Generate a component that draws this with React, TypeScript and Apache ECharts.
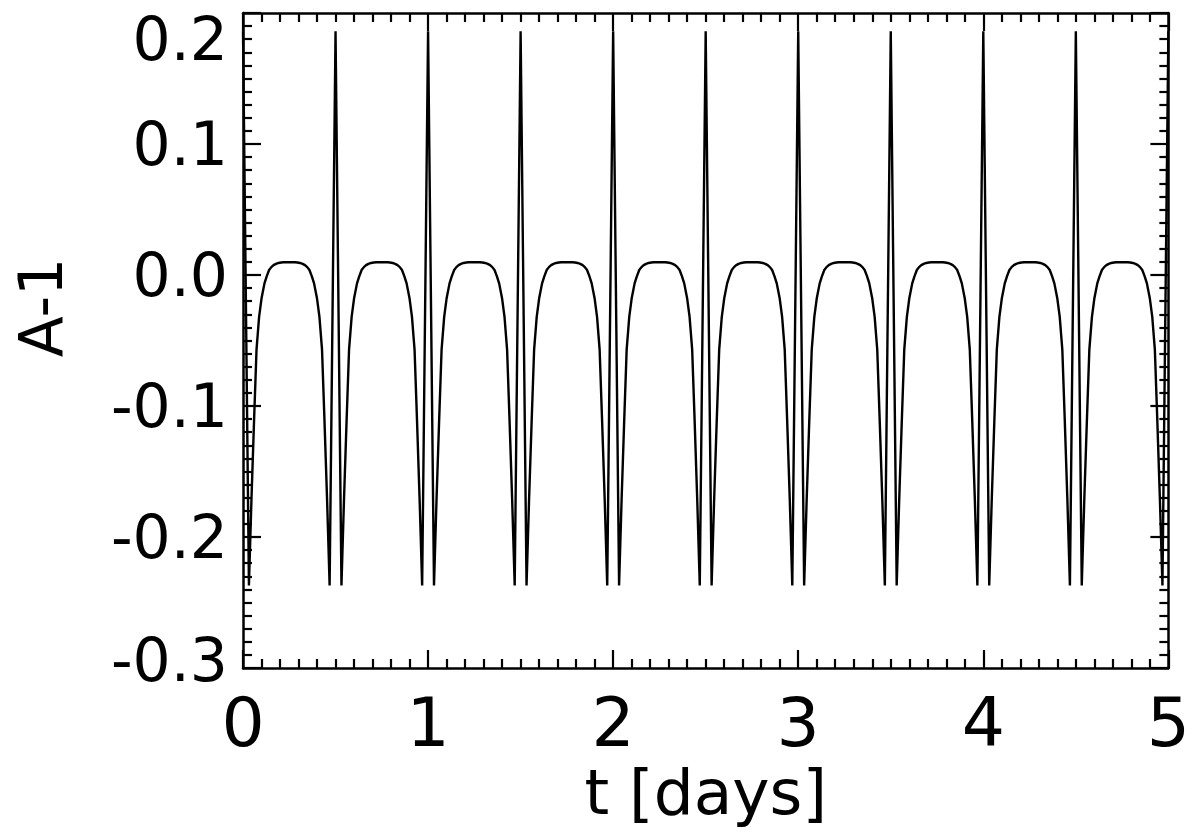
import React, { useEffect, useRef } from "react";
import * as echarts from "echarts";

// One period of the curve (spike at offset 0, hump in the middle)
const phaseOffsets = [0, 0.032, 0.046, 0.06, 0.073, 0.087, 0.1, 0.116, 0.128, 0.141, 0.153, 0.165, 0.178, 0.192, 0.206, 0.22, 0.25, 0.28, 0.294, 0.308, 0.322, 0.335, 0.347, 0.359, 0.372, 0.384, 0.4, 0.413, 0.427, 0.44, 0.454, 0.468];
const phaseValues = [0.186, -0.237, -0.17, -0.11, -0.057, -0.032, -0.018, -0.0064, -0.001, 0.0038, 0.006, 0.0075, 0.0085, 0.0092, 0.0095, 0.0097, 0.0098, 0.0097, 0.0095, 0.0092, 0.0085, 0.0075, 0.006, 0.0038, -0.001, -0.0064, -0.018, -0.032, -0.057, -0.11, -0.17, -0.237];
// Start times of the repeating periods (spike times)
const periodStarts = [0, 0.5, 1, 1.5, 2, 2.5, 3, 3.5, 4, 4.5];
const finalPoint = [5, 0.186];

const xTicks = [0, 1, 2, 3, 4, 5];
const yTicks = [-0.3, -0.2, -0.1, 0.0, 0.1, 0.2];

const FONT = "DejaVu Sans";

export default function App() {
  const ref = useRef<HTMLDivElement>(null);
  useEffect(() => {
    if (!ref.current) return;
    const chart = echarts.init(ref.current, null, { renderer: "svg" });
    const data: number[][] = [];
    periodStarts.forEach((p) => {
      phaseOffsets.forEach((o, i) => data.push([p + o, phaseValues[i]]));
    });
    data.push(finalPoint);

    const xMin = xTicks[0];
    const xMax = xTicks[xTicks.length - 1];
    const yMin = yTicks[0];
    const yMax = yTicks[yTicks.length - 1];

    const axisLine = { show: true, onZero: false, lineStyle: { color: "#000", width: 2.5 } };
    const tick = { show: true, inside: true, length: 18, lineStyle: { color: "#000", width: 2.2 } };
    const minor = { show: true, splitNumber: 10, length: 9, lineStyle: { color: "#000", width: 2.2 } };

    const fmtY = (v: number) => {
      const s = Math.abs(v) < 1e-9 ? "0.0" : v.toFixed(1);
      if (Math.abs(v - yMax) < 1e-9) return "{top|" + s + "}";
      if (Math.abs(v - yMin) < 1e-9) return "{bot|" + s + "}";
      return s;
    };

    chart.setOption({
      animation: false,
      backgroundColor: "#fff",
      grid: { left: 243, right: 20, top: 13, bottom: 168, containLabel: false },
      xAxis: [
        {
          type: "value",
          min: xMin,
          max: xMax,
          interval: 1,
          position: "bottom",
          axisLine,
          axisTick: tick,
          minorTick: minor,
          splitLine: { show: false },
          axisLabel: {
            margin: 20,
            fontFamily: FONT,
            fontSize: 68,
            color: "#000",
            formatter: (v: number) => String(Math.round(v)),
          },
          name: "t [days]",
          nameLocation: "middle",
          nameGap: 92,
          nameTextStyle: { fontFamily: FONT, fontSize: 63, color: "#000" },
        },
        {
          type: "value",
          min: xMin,
          max: xMax,
          interval: 1,
          position: "top",
          axisLine,
          axisTick: tick,
          minorTick: minor,
          splitLine: { show: false },
          axisLabel: { show: false },
        },
      ],
      yAxis: [
        {
          type: "value",
          min: yMin,
          max: yMax,
          interval: 0.1,
          position: "left",
          axisLine,
          axisTick: tick,
          minorTick: minor,
          splitLine: { show: false },
          axisLabel: {
            margin: 15,
            fontFamily: FONT,
            fontSize: 60,
            color: "#000",
            formatter: fmtY,
            rich: {
              top: { fontFamily: FONT, fontSize: 60, color: "#000", padding: [52, 0, 0, 0] },
              bot: { fontFamily: FONT, fontSize: 60, color: "#000", padding: [0, 0, 16, 0] },
            },
          },
          name: "A-1",
          nameLocation: "middle",
          nameGap: 172,
          nameTextStyle: { fontFamily: FONT, fontSize: 60, color: "#000", padding: [0, 0, 0, 66] },
        },
        {
          type: "value",
          min: yMin,
          max: yMax,
          interval: 0.1,
          position: "right",
          axisLine,
          axisTick: tick,
          minorTick: minor,
          splitLine: { show: false },
          axisLabel: { show: false },
        },
      ],
      series: [
        {
          type: "line",
          data,
          showSymbol: false,
          symbol: "none",
          lineStyle: { color: "#000", width: 2.4 },
          clip: true,
        },
      ],
    });
    return () => chart.dispose();
  }, []);
  return <div ref={ref} style={{ position: "fixed", left: 0, top: 0, width: 1193, height: 836 }} />;
}
